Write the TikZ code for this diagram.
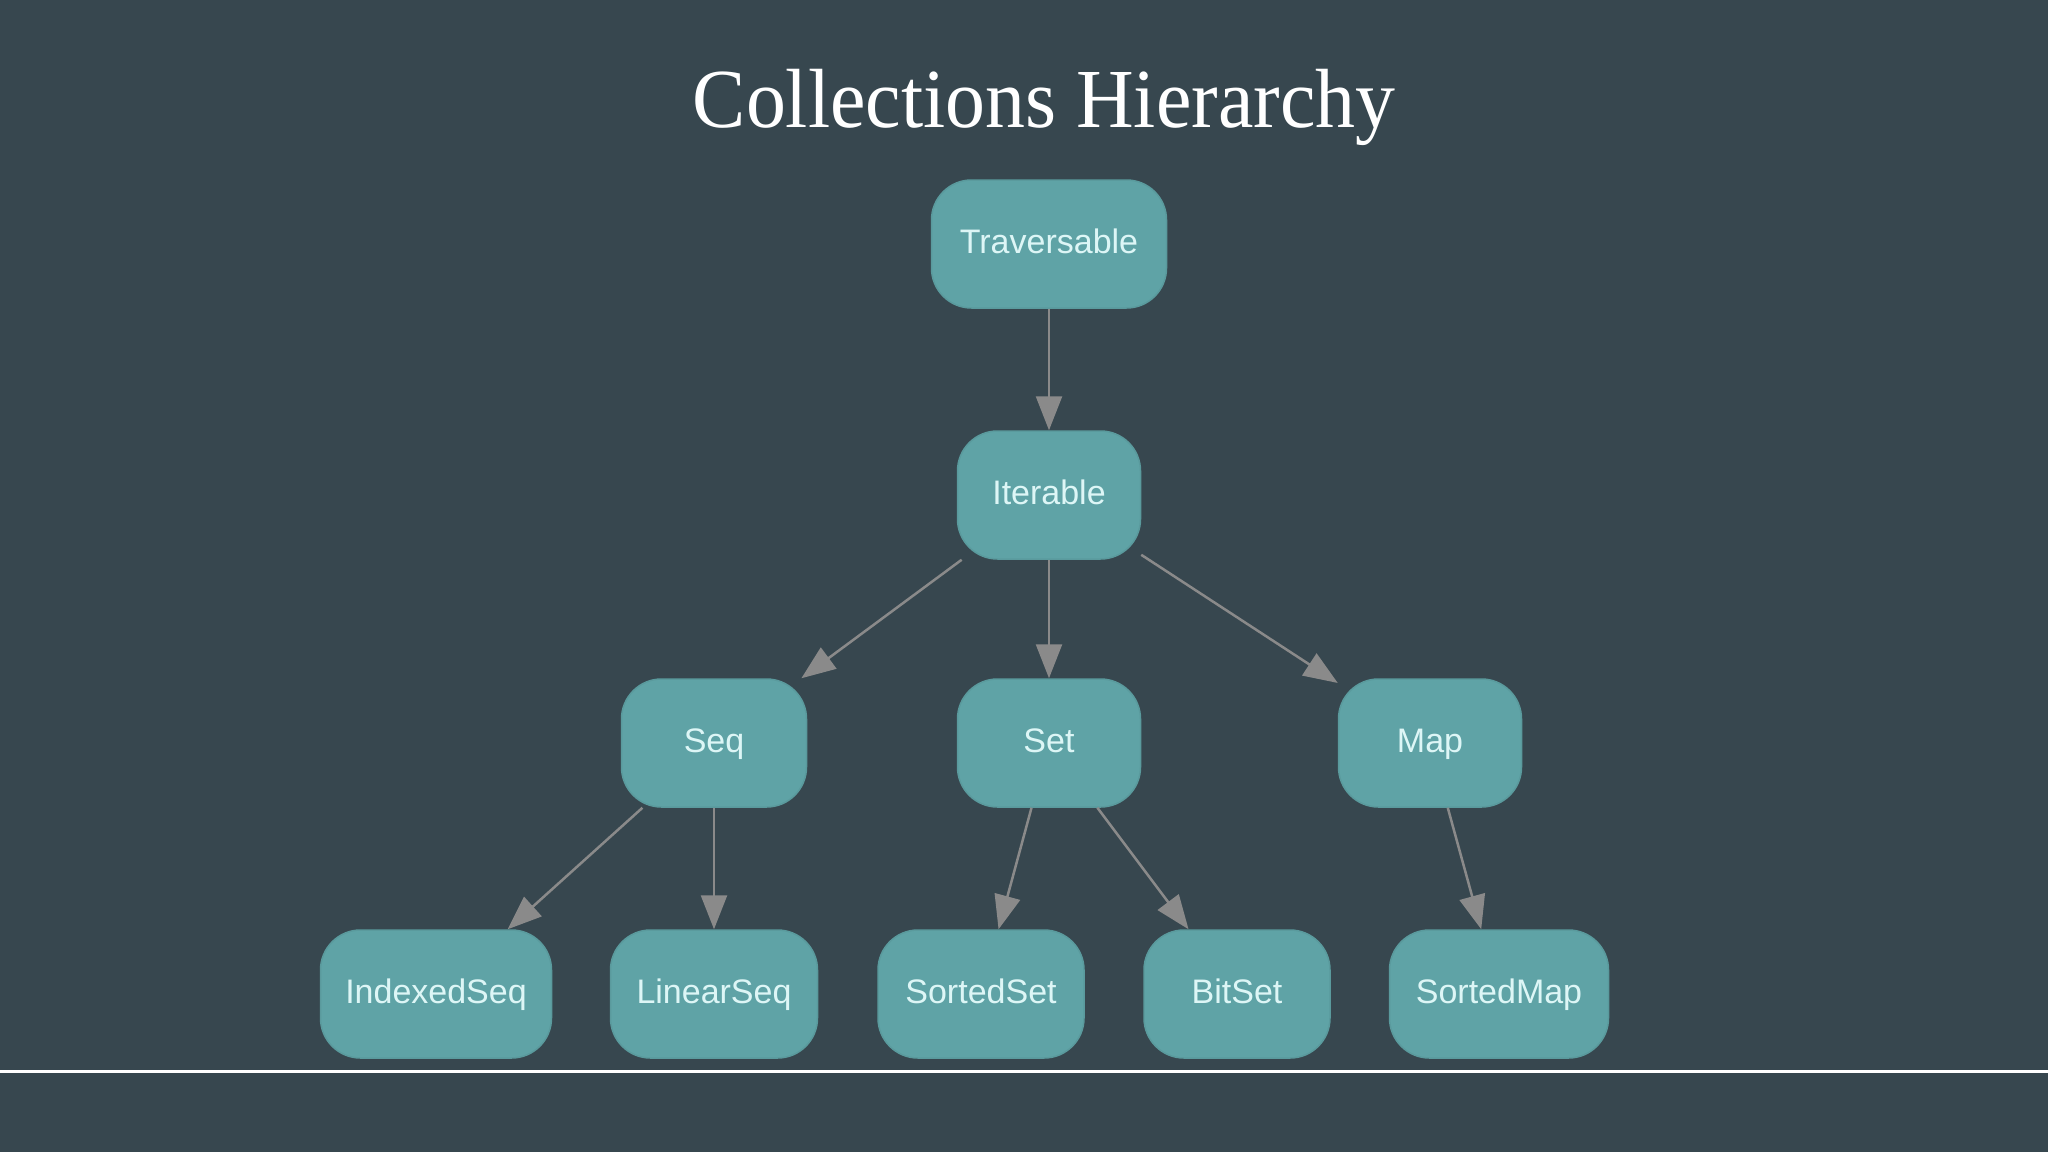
\documentclass[tikz,border=0pt]{standalone}
\usepackage{fontspec}
\setmainfont{Liberation Serif}
\newfontfamily\nodefont{Liberation Sans}
\usetikzlibrary{arrows.meta}
\definecolor{bgcol}{HTML}{37474F}
\definecolor{nodefill}{HTML}{5FA3A6}
\definecolor{nodeedge}{HTML}{5A9A9D}
\definecolor{nodetext}{HTML}{DDF6F6}
\definecolor{edgecol}{HTML}{8A8A8A}
\tikzset{
  classbox/.style={draw=nodeedge, line width=1.5pt, fill=nodefill, rounded corners=40pt,
    minimum height=128pt, inner sep=0pt, text=nodetext,
    font=\nodefont\fontsize{34pt}{40pt}\selectfont, text height=24pt, text depth=5pt},
  inherit/.style={draw=edgecol, line width=2.5pt, -{Triangle[length=34pt,width=26pt]}, color=edgecol},
}
\begin{document}
\begin{tikzpicture}[x=1pt,y=-1pt]
\fill[bgcol] (0,0) rectangle (2048,1152);
\useasboundingbox (0,0) rectangle (2048,1152);
\node[anchor=base, text=white, font=\fontsize{84pt}{90pt}\selectfont] (title) at (1044,127) {\scalebox{0.95}[1]{Collections Hierarchy}};
\node[classbox, minimum width=235pt] (trav) at (1049,244) {Traversable};
\node[classbox, minimum width=183pt] (iter) at (1049,495) {Iterable};
\node[classbox, minimum width=185pt] (seq) at (714,743) {Seq};
\node[classbox, minimum width=183pt] (set) at (1049,743) {Set};
\node[classbox, minimum width=183pt] (map) at (1430,743) {Map};
\node[classbox, minimum width=231pt] (iseq) at (436,994) {IndexedSeq};
\node[classbox, minimum width=207pt] (lseq) at (714,994) {LinearSeq};
\node[classbox, minimum width=206pt] (sset) at (981,994) {SortedSet};
\node[classbox, minimum width=186pt] (bset) at (1237,994) {BitSet};
\node[classbox, minimum width=219pt] (smap) at (1499,994) {SortedMap};
\draw[inherit] (trav) -- (iter);
\draw[inherit] (iter) -- (seq);
\draw[inherit] (iter) -- (set);
\draw[inherit] (iter) -- (map);
\draw[inherit] (seq) -- (iseq);
\draw[inherit] (seq) -- (lseq);
\draw[inherit] (set) -- (sset);
\draw[inherit] (set) -- (bset);
\draw[inherit] (map) -- (smap);
\coordinate (rl) at (0,1071.5);
\coordinate (rr) at (2048,1071.5);
\draw[white, line width=3pt] (rl) -- (rr);
\end{tikzpicture}
\end{document}
